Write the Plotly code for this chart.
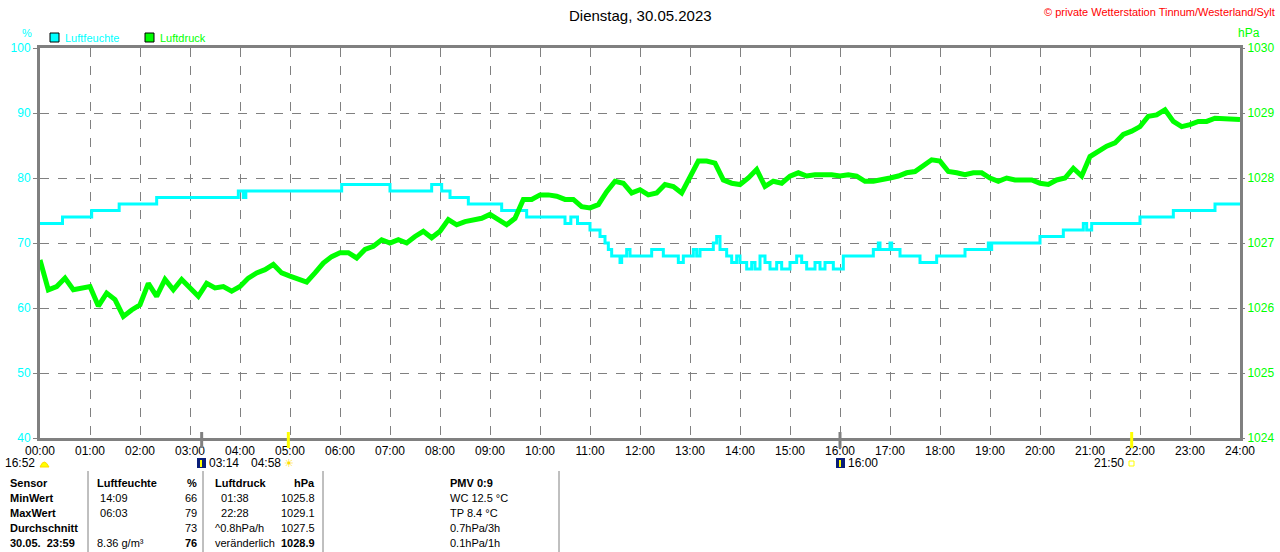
import plotly.graph_objects as go

title = "Dienstag, 30.05.2023"
copyright_text = "© private Wetterstation Tinnum/Westerland/Sylt"
hour_labels = [f"{h:02d}:00" for h in range(25)]

# Luftfeuchte (%) - change points of the step line
hum_times = ["00:00", "00:27", "01:02", "01:35", "02:20", "03:58", "04:04", "04:07", "06:02", "07:00",
             "07:50", "08:02", "08:12", "08:34", "09:14", "09:44", "10:30", "10:37", "10:45", "11:00",
             "11:12", "11:18", "11:22", "11:26", "11:36", "11:38", "11:44", "11:48", "12:14", "12:28",
             "12:46", "12:52", "13:04", "13:08", "13:12", "13:28", "13:32", "13:36", "13:44", "13:50",
             "13:56", "14:00", "14:08", "14:14", "14:18", "14:24", "14:30", "14:36", "14:44", "14:50",
             "15:00", "15:08", "15:14", "15:20", "15:30", "15:36", "15:42", "15:52", "16:04", "16:40",
             "16:46", "16:48", "17:00", "17:02", "17:12", "17:36", "17:56", "18:30", "18:58", "19:00",
             "19:02", "20:00", "20:28", "20:52", "20:56", "21:02", "22:00", "22:40", "23:30", "24:00"]
hum_values = [73, 74, 75, 76, 77, 78, 77, 78, 79, 78,
              79, 78, 77, 76, 75, 74, 73, 74, 73, 72,
              71, 70, 69, 68, 67, 68, 69, 68, 69, 68,
              67, 68, 69, 68, 69, 70, 71, 69, 68, 67,
              68, 67, 66, 67, 66, 68, 67, 66, 67, 66,
              67, 68, 67, 66, 67, 66, 67, 66, 68, 69,
              70, 69, 70, 69, 68, 67, 68, 69, 70, 69,
              70, 71, 72, 73, 72, 73, 74, 75, 76, 76]

# Luftdruck (hPa) - every 10 minutes
pres_times = [f"{m // 60:02d}:{m % 60:02d}" for m in range(0, 1441, 10)]
pres_values = [
    1026.74, 1026.28, 1026.33, 1026.46, 1026.28, 1026.31,  # 00
    1026.33, 1026.03, 1026.23, 1026.13, 1025.87, 1025.97,  # 01
    1026.05, 1026.38, 1026.18, 1026.44, 1026.28, 1026.44,  # 02
    1026.31, 1026.18, 1026.38, 1026.31, 1026.33, 1026.26,  # 03
    1026.33, 1026.46, 1026.54, 1026.59, 1026.67, 1026.54,  # 04
    1026.49, 1026.44, 1026.40, 1026.54, 1026.69, 1026.79,  # 05
    1026.85, 1026.85, 1026.77, 1026.90, 1026.95, 1027.05,  # 06
    1027.00, 1027.05, 1027.00, 1027.10, 1027.18, 1027.08,  # 07
    1027.18, 1027.36, 1027.28, 1027.33, 1027.36, 1027.38,  # 08
    1027.44, 1027.36, 1027.28, 1027.38, 1027.67, 1027.67,  # 09
    1027.74, 1027.74, 1027.72, 1027.67, 1027.67, 1027.56,  # 10
    1027.54, 1027.59, 1027.79, 1027.95, 1027.92, 1027.77,  # 11
    1027.82, 1027.74, 1027.77, 1027.90, 1027.87, 1027.77,  # 12
    1028.03, 1028.26, 1028.26, 1028.23, 1027.97, 1027.92,  # 13
    1027.90, 1028.00, 1028.13, 1027.87, 1027.95, 1027.92,  # 14
    1028.03, 1028.08, 1028.03, 1028.05, 1028.05, 1028.05,  # 15
    1028.03, 1028.05, 1028.03, 1027.95, 1027.95, 1027.97,  # 16
    1028.00, 1028.03, 1028.08, 1028.10, 1028.18, 1028.28,  # 17
    1028.26, 1028.10, 1028.08, 1028.05, 1028.08, 1028.08,  # 18
    1028.00, 1027.95, 1028.00, 1027.97, 1027.97, 1027.97,  # 19
    1027.92, 1027.90, 1027.97, 1028.00, 1028.15, 1028.03,  # 20
    1028.33, 1028.41, 1028.49, 1028.54, 1028.67, 1028.72,  # 21
    1028.79, 1028.95, 1028.97, 1029.05, 1028.87, 1028.79,  # 22
    1028.82, 1028.87, 1028.87, 1028.92, 1028.91, 1028.91,  # 23
    1028.90,
]

# sun / moon events
event_times = ["03:14", "04:58", "16:00", "21:50"]
event_kinds = ["moon", "sun", "moon", "sun"]

# table under the chart
table_rows = ["Sensor", "MinWert", "MaxWert", "Durchschnitt", "30.05.  23:59"]
hum_col = ["<b>Luftfeuchte</b>", " 14:09", " 06:03", "", "8.36 g/m³"]
hum_vals = ["<b>%</b>", "66", "79", "73", "<b>76</b>"]
pres_col = ["<b>Luftdruck</b>", "  01:38", "  22:28", "^0.8hPa/h", "veränderlich"]
pres_vals = ["<b>hPa</b>", "1025.8", "1029.1", "1027.5", "<b>1028.9</b>"]
extra_col = ["<b>PMV 0:9</b>", "WC 12.5 °C", "TP 8.4 °C", "0.7hPa/3h", "0.1hPa/1h"]

CYAN = "#00FFFF"
GREEN = "#00FF00"
GREY = "#808080"
FONT = "Liberation Sans"


def hours(t):
    return int(t[:2]) + int(t[3:]) / 60


# pixel -> paper (plot area: x 40..1240, y 48..438)
def px(x):
    return (x - 40) / 1200


def py(y):
    return (438 - y) / 390


fig = go.Figure()
fig.add_trace(go.Scatter(x=[hours(t) for t in pres_times], y=pres_values, yaxis="y2",
                         mode="lines", line=dict(color=GREEN, width=5),
                         name="Luftdruck"))
fig.add_trace(go.Scatter(x=[hours(t) for t in hum_times], y=hum_values,
                         mode="lines", line=dict(color=CYAN, width=3, shape="hv"),
                         name="Luftfeuchte"))

shapes = []
ann = []

def text(x, y, s, color="black", size=12, anchor="left"):
    ann.append(dict(x=px(x), y=py(y), xref="paper", yref="paper", text=s, showarrow=False,
                    xanchor=anchor, yanchor="middle", font=dict(family=FONT, size=size, color=color)))

# title / copyright / units
text(640, 15, title, size=15, anchor="center")
text(1277, 12, copyright_text, color="#FF0000", size=11, anchor="right")
text(27, 33, "%", color=CYAN, size=11, anchor="center")
text(1249, 33, "hPa", color=GREEN, size=12, anchor="center")

# legend
for x0, col, name in [(50, CYAN, "Luftfeuchte"), (145, GREEN, "Luftdruck")]:
    shapes.append(dict(type="rect", xref="paper", yref="paper", x0=px(x0), x1=px(x0 + 9),
                       y0=py(42), y1=py(33), fillcolor=col, line=dict(color="black", width=1)))
    text(x0 + 13, 38, name, color=col, size=11)

# event marks on the time axis
for t, kind in zip(event_times, event_kinds):
    shapes.append(dict(type="line", xref="x", yref="paper", x0=hours(t), x1=hours(t),
                       y0=py(448), y1=py(432),
                       line=dict(color="#FFFF00" if kind == "sun" else GREY, width=3)))

# event labels row
text(37, 463, "16:52", anchor="right")
shapes.append(dict(type="path", xref="paper", yref="paper",
                   path=f"M {px(40)} {py(467)} Q {px(44)} {py(457)} {px(49)} {py(467)} Z",
                   fillcolor="#FFFF00", line=dict(color="#FFD800", width=1)))
for x0, label in [(197, "03:14"), (836, "16:00")]:
    shapes.append(dict(type="rect", xref="paper", yref="paper", x0=px(x0), x1=px(x0 + 9),
                       y0=py(468), y1=py(458), fillcolor="#0A1E78", line=dict(width=0)))
    shapes.append(dict(type="line", xref="paper", yref="paper", x0=px(x0 + 4), x1=px(x0 + 4),
                       y0=py(467), y1=py(460), line=dict(color="#FFFF00", width=2)))
    text(x0 + 10, 463, label)
text(283, 463, "04:58", anchor="right")
text(289, 463, "☀", color="#FFE000", size=11, anchor="center")
text(1126, 463, "21:50", anchor="right")
shapes.append(dict(type="rect", xref="paper", yref="paper", x0=px(1129), x1=px(1134),
                   y0=py(466), y1=py(461), line=dict(color="#FFFF00", width=1)))

# table
for xv in [88, 203, 323, 559]:
    shapes.append(dict(type="line", xref="paper", yref="paper", x0=px(xv), x1=px(xv),
                       y0=py(552), y1=py(471), line=dict(color=GREY, width=1)))
row_y = [483, 498, 513, 528, 543]
for i, y in enumerate(row_y):
    text(8, y, f"<b>{table_rows[i]}</b>", size=11)
    text(95, y, hum_col[i], size=11)
    text(199, y, hum_vals[i], size=11, anchor="right")
    text(213, y, pres_col[i], size=11)
    text(317, y, pres_vals[i], size=11, anchor="right")
    text(448, y, extra_col[i], size=11)

fig.update_layout(
    width=1280, height=552,
    margin=dict(l=40, r=40, t=48, b=114, autoexpand=False),
    paper_bgcolor="white", plot_bgcolor="white",
    showlegend=False,
    font=dict(family=FONT, size=12, color="black"),
    shapes=shapes, annotations=ann,
    xaxis=dict(range=[0, 24], tickvals=list(range(25)), ticktext=hour_labels,
               showgrid=True, gridcolor=GREY, griddash="dash", gridwidth=1,
               showline=True, linecolor=GREY, linewidth=3, mirror=True, automargin=False,
               ticks="", zeroline=False, tickfont=dict(size=12, color="black")),
    yaxis=dict(range=[40, 100], dtick=10, showgrid=True, gridcolor=GREY, griddash="dash",
               gridwidth=1, showline=True, linecolor=GREY, linewidth=3, mirror=True,
               ticks="outside", ticklen=4, tickcolor=GREY, zeroline=False, automargin=False,
               tickfont=dict(size=12, color=CYAN)),
    yaxis2=dict(range=[1024, 1030], dtick=1, overlaying="y", side="right", showgrid=False,
                ticks="outside", ticklen=4, tickcolor=GREY, zeroline=False, automargin=False,
                tickfont=dict(size=12, color=GREEN)),
)

# page body has a default 8px margin; drop it so the figure sits at the top-left corner
fig.write_html("out.html", config={"displayModeBar": False},
               post_script="document.body.style.margin='0';"
                           "document.body.style.overflow='hidden';")
